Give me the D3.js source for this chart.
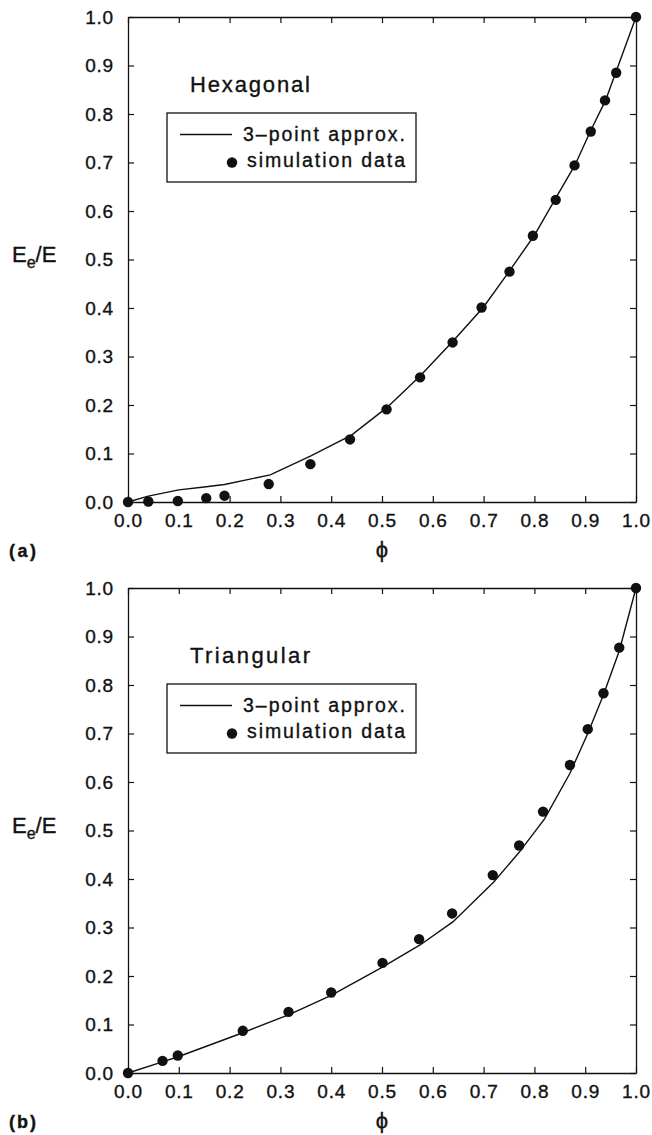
<!DOCTYPE html>
<html>
<head>
<meta charset="utf-8">
<script src="https://cdn.jsdelivr.net/npm/d3@7"></script>
<style>
  html, body { margin: 0; padding: 0; background: #fff; }
  svg { display: block; }
  text { font-family: "Liberation Sans", Arial, Helvetica, sans-serif; fill: #111; stroke: #111; stroke-width: 0.35px; }
</style>
</head>
<body>
<svg id="chart" width="652" height="1135"></svg>
<script>
// ---------- data ----------
const tickValues = [0, 0.1, 0.2, 0.3, 0.4, 0.5, 0.6, 0.7, 0.8, 0.9, 1.0];
const tickLabels = ["0.0","0.1","0.2","0.3","0.4","0.5","0.6","0.7","0.8","0.9","1.0"];

const panelTitles = ["Hexagonal", "Triangular"];
const panelTags = ["(a)", "(b)"];
const legendLabels = ["3\u2013point approx.", "simulation data"];
const xLabel = "\u03D5";

// Hexagonal (a)
const hexSimPhi = [0, 0.04, 0.098, 0.154, 0.19, 0.277, 0.359, 0.437, 0.509, 0.575, 0.639, 0.696, 0.751, 0.797, 0.842, 0.879, 0.911, 0.939, 0.961, 1.0];
const hexSimE   = [0, 0.001, 0.002, 0.008, 0.013, 0.037, 0.078, 0.129, 0.191, 0.257, 0.329, 0.401, 0.475, 0.549, 0.623, 0.694, 0.764, 0.828, 0.885, 1.0];
const hexFitPhi = [0, 0.04, 0.1, 0.15, 0.19, 0.28, 0.36, 0.44, 0.51, 0.575, 0.64, 0.70, 0.75, 0.80, 0.84, 0.88, 0.91, 0.94, 0.96, 1.0];
const hexFitE   = [0, 0.012, 0.025, 0.031, 0.036, 0.056, 0.095, 0.138, 0.195, 0.26, 0.332, 0.402, 0.475, 0.55, 0.623, 0.695, 0.764, 0.828, 0.885, 1.0];

// Triangular (b)
const triSimPhi = [0, 0.068, 0.098, 0.226, 0.316, 0.4, 0.501, 0.573, 0.638, 0.718, 0.77, 0.817, 0.87, 0.905, 0.936, 0.967, 1.0];
const triSimE   = [0, 0.025, 0.036, 0.087, 0.126, 0.166, 0.227, 0.276, 0.329, 0.408, 0.469, 0.539, 0.635, 0.709, 0.783, 0.877, 1.0];
const triFitPhi = [0, 0.068, 0.1, 0.226, 0.316, 0.4, 0.5, 0.575, 0.64, 0.72, 0.77, 0.82, 0.87, 0.905, 0.936, 0.967, 1.0];
const triFitE   = [0, 0.023, 0.034, 0.083, 0.12, 0.16, 0.218, 0.264, 0.312, 0.394, 0.455, 0.524, 0.618, 0.70, 0.78, 0.87, 1.0];

// ---------- layout ----------
const svg = d3.select("#chart");
const X0 = 128, X1 = 636;
const panels = [
  { top: 17,  bottom: 502,  title: panelTitles[0], tag: panelTags[0],
    sim: d3.zip(hexSimPhi, hexSimE), fit: d3.zip(hexFitPhi, hexFitE) },
  { top: 588, bottom: 1073, title: panelTitles[1], tag: panelTags[1],
    sim: d3.zip(triSimPhi, triSimE), fit: d3.zip(triFitPhi, triFitE) }
];

const fmt = v => tickLabels[tickValues.findIndex(t => Math.abs(t - v) < 1e-9)];

panels.forEach(p => {
  const x = d3.scaleLinear().domain([0, 1]).range([X0, X1]);
  const y = d3.scaleLinear().domain([0, 1]).range([p.bottom, p.top]);
  const g = svg.append("g");

  // axes (ticks inward on all four sides)
  const ax = [
    { a: d3.axisBottom(x).tickValues(tickValues).tickFormat(fmt).tickSizeInner(-6).tickSizeOuter(0).tickPadding(11.5), t: `translate(0,${p.bottom})` },
    { a: d3.axisLeft(y).tickValues(tickValues).tickFormat(fmt).tickSizeInner(-6).tickSizeOuter(0).tickPadding(14), t: `translate(${X0},0)` },
    { a: d3.axisTop(x).tickValues(tickValues).tickFormat("").tickSizeInner(-6).tickSizeOuter(0), t: `translate(0,${p.top})` },
    { a: d3.axisRight(y).tickValues(tickValues).tickFormat("").tickSizeInner(-6).tickSizeOuter(0), t: `translate(${X1},0)` }
  ];
  ax.forEach(d => {
    const gg = g.append("g").attr("transform", d.t).call(d.a);
    gg.select(".domain").attr("stroke", "#111").attr("stroke-width", 1.3);
    gg.selectAll(".tick line").attr("stroke", "#111").attr("stroke-width", 1.2);
    gg.selectAll(".tick text")
      .attr("font-size", 19)
      .attr("letter-spacing", "0.8px")
      .attr("font-family", "Liberation Sans, Arial, sans-serif")
      .attr("fill", "#111");
  });

  // fitted curve
  const line = d3.line().x(d => x(d[0])).y(d => y(d[1]));
  g.append("path").datum(p.fit)
    .attr("d", line).attr("fill", "none")
    .attr("stroke", "#111").attr("stroke-width", 1.4);

  // simulation points
  g.selectAll("circle.sim").data(p.sim).enter().append("circle")
    .attr("class", "sim")
    .attr("cx", d => x(d[0])).attr("cy", d => y(d[1]))
    .attr("r", 5.2).attr("fill", "#111");

  // panel title
  g.append("text").attr("x", 190).attr("y", p.top + 75)
    .attr("font-size", 22).attr("textLength", 120).attr("lengthAdjust", "spacing")
    .text(p.title);

  // legend
  const ly = p.top + 96;
  g.append("rect").attr("x", 167).attr("y", ly).attr("width", 249).attr("height", 69)
    .attr("fill", "#fff").attr("stroke", "#111").attr("stroke-width", 1.3);
  g.append("line").attr("x1", 180).attr("x2", 232)
    .attr("y1", ly + 21.5).attr("y2", ly + 21.5)
    .attr("stroke", "#111").attr("stroke-width", 1.4);
  g.append("text").attr("x", 243).attr("y", ly + 27.5)
    .attr("font-size", 19.5).attr("textLength", 162).attr("lengthAdjust", "spacing")
    .text(legendLabels[0]);
  g.append("circle").attr("cx", 232).attr("cy", ly + 49.5).attr("r", 5.2).attr("fill", "#111");
  g.append("text").attr("x", 247).attr("y", ly + 54)
    .attr("font-size", 19.5).attr("textLength", 158).attr("lengthAdjust", "spacing")
    .text(legendLabels[1]);

  // y label
  const yl = g.append("text").attr("x", 12).attr("y", y(0.5) + 2).attr("font-size", 22);
  yl.append("tspan").text("E");
  yl.append("tspan").attr("font-size", 16).attr("dy", 6).text("e");
  yl.append("tspan").attr("dy", -6).text("/E");

  // x label
  g.append("text").attr("x", x(0.5)).attr("y", p.bottom + 55)
    .attr("text-anchor", "middle").attr("font-size", 22)
    .attr("font-family", "DejaVu Sans, Liberation Sans, sans-serif")
    .text(xLabel);

  // panel tag
  g.append("text").attr("x", 9).attr("y", p.bottom + 55)
    .attr("font-size", 18).attr("font-weight", "bold")
    .attr("textLength", 27).attr("lengthAdjust", "spacing")
    .text(p.tag);
});
</script>
</body>
</html>
